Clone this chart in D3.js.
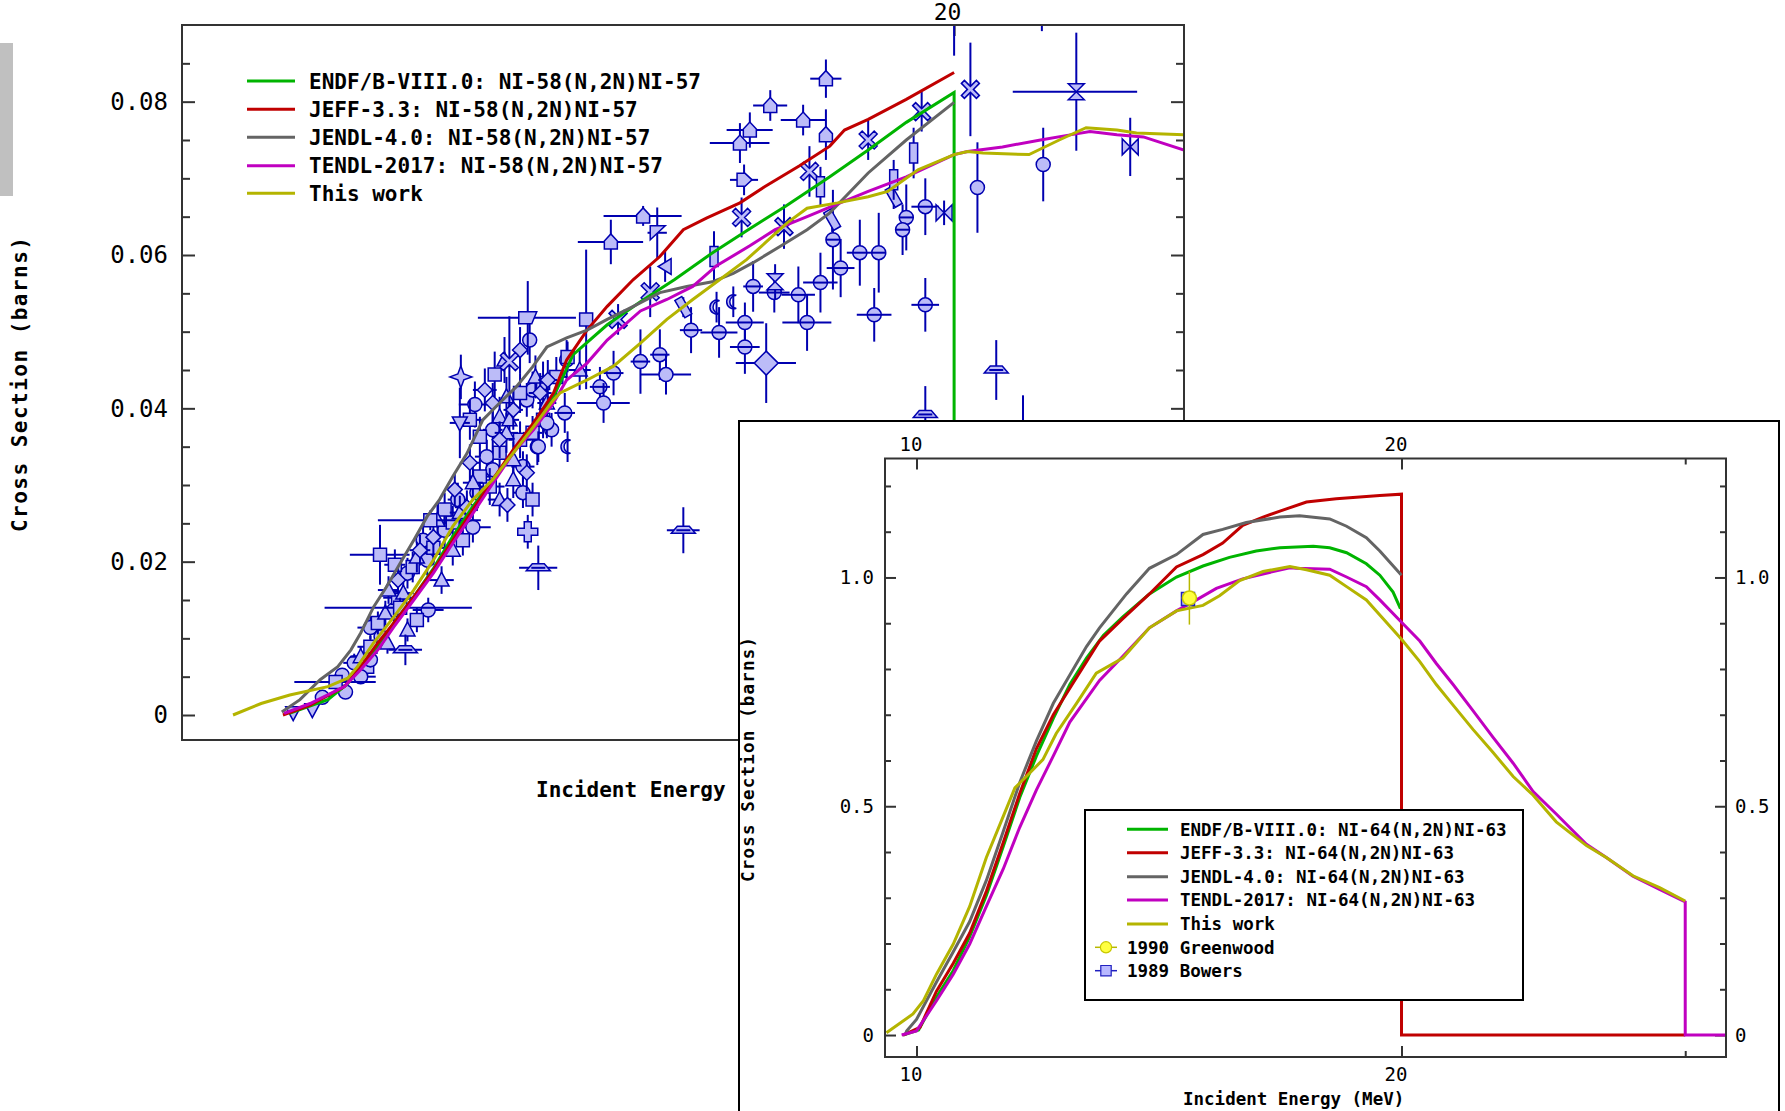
<!DOCTYPE html>
<html><head><meta charset="utf-8">
<script src="https://cdn.jsdelivr.net/npm/d3@7"></script>
<style>body{margin:0;background:#fff;overflow:hidden}</style>
</head><body>
<svg id="c" width="1785" height="1111"></svg>
<script>
// ---------------- DATA: panel 1, Ni-58(n,2n)Ni-57 (E in MeV, cross section in barns) ----------------
const legend1Labels = ["ENDF/B-VIII.0: NI-58(N,2N)NI-57","JEFF-3.3: NI-58(N,2N)NI-57","JENDL-4.0: NI-58(N,2N)NI-57","TENDL-2017: NI-58(N,2N)NI-57","This work"];
const y1MajorTicks = [0,0.02,0.04,0.06,0.08];
const x1Ticks = [20];

const endf1 = [[12.54,0.0002],[12.89,0.0020],[13.07,0.0041],[13.19,0.0063],[13.35,0.0089],[13.50,0.0120],[13.69,0.0154],[13.88,0.0191],[14.07,0.0233],[14.27,0.0272],[14.47,0.0307],[14.68,0.0342],[14.89,0.0376],[15.10,0.0415],[15.31,0.0470],[15.68,0.0509],[16.05,0.0539],[16.44,0.0568],[16.87,0.0602],[17.31,0.0633],[17.76,0.0663],[18.33,0.0702],[18.83,0.0737],[19.34,0.0773],[20.0,0.0812],[20.0,0]];
const jeff1 = [[12.49,0],[12.73,0.0013],[13.04,0.0037],[13.19,0.0063],[13.35,0.0094],[13.50,0.0120],[13.69,0.0154],[13.88,0.0189],[14.07,0.0228],[14.27,0.0268],[14.47,0.0307],[14.68,0.0346],[14.89,0.0381],[15.10,0.0420],[15.24,0.0463],[15.46,0.0502],[15.68,0.0533],[15.97,0.0568],[16.27,0.0598],[16.54,0.0633],[16.81,0.0648],[17.21,0.0668],[17.51,0.0689],[17.94,0.0716],[18.33,0.0742],[18.52,0.0763],[18.83,0.0777],[19.34,0.0803],[20.0,0.0838]];
const jendl1 = [[12.48,0.0004],[12.64,0.0020],[12.82,0.0046],[12.98,0.0063],[13.10,0.0085],[13.19,0.0107],[13.31,0.0141],[13.43,0.0167],[13.56,0.0198],[13.69,0.0228],[13.82,0.0259],[13.94,0.0281],[14.07,0.0311],[14.21,0.0341],[14.37,0.0385],[14.54,0.0407],[14.71,0.0428],[14.88,0.0454],[15.03,0.0480],[15.24,0.0492],[15.46,0.0502],[15.68,0.0516],[15.97,0.0533],[16.27,0.0551],[16.58,0.0559],[16.88,0.0565],[17.13,0.0576],[17.37,0.0590],[17.70,0.0611],[18.04,0.0633],[18.33,0.0655],[18.83,0.0707],[19.34,0.0750],[20.0,0.0799]];
const tendl1 = [[12.50,0.0002],[12.73,0.0015],[13.04,0.0037],[13.19,0.0059],[13.35,0.0085],[13.50,0.0115],[13.69,0.0150],[13.88,0.0185],[14.07,0.0224],[14.27,0.0263],[14.47,0.0302],[14.68,0.0342],[14.89,0.0372],[15.10,0.0407],[15.24,0.0437],[15.46,0.0459],[15.68,0.0489],[16.05,0.0527],[16.35,0.0542],[16.65,0.0559],[16.93,0.0586],[17.33,0.0612],[17.64,0.0633],[18.04,0.0650],[18.37,0.0664],[18.83,0.0683],[19.34,0.0702],[20.0,0.0731],[20.19,0.0735],[20.69,0.0741],[21.25,0.0750],[21.72,0.0757],[22.0,0.0761],[22.42,0.0757],[22.84,0.0754],[23.5,0.0737]];
const work1 = [[12.06,0],[12.30,0.0015],[12.55,0.0026],[12.89,0.0037],[13.07,0.0048],[13.16,0.0063],[13.31,0.0094],[13.50,0.0128],[13.69,0.0163],[13.88,0.0202],[14.07,0.0246],[14.27,0.0281],[14.47,0.0307],[14.68,0.0342],[14.89,0.0376],[15.10,0.0411],[15.17,0.0420],[15.46,0.0437],[15.75,0.0455],[16.05,0.0485],[16.35,0.0516],[16.65,0.0542],[16.97,0.0568],[17.29,0.0594],[17.54,0.0618],[17.79,0.0642],[18.04,0.0661],[18.43,0.0668],[18.83,0.0676],[19.09,0.0683],[19.50,0.0711],[20.0,0.0731],[20.19,0.0735],[20.41,0.0733],[21.08,0.0731],[21.53,0.0750],[21.94,0.0766],[22.42,0.0763],[22.73,0.0759],[23.5,0.0757]];

// experimental points: [E, sigma, dE, dSigma]
const expCircleBar = [[19.60,0.0663,0.19,0.0037],[19.34,0.0649,0,0.0043],[19.29,0.0633,0,0.0033],[18.72,0.0603,0.17,0.0043],[18.97,0.0603,0,0.0052],[18.37,0.0620,0,0.0065],[18.47,0.0583,0.18,0.0038],[18.21,0.0564,0.22,0.0039],[17.93,0.0548,0.21,0.0037],[17.63,0.0551,0.19,0.0026],[17.37,0.0559,0.12,0.0033],[18.04,0.0512,0.31,0.0037],[18.91,0.0522,0.23,0.0035],[19.60,0.0535,0.19,0.0035],[17.27,0.0512,0.23,0.0026],[17.27,0.0480,0.18,0.0035],[16.96,0.0499,0.22,0.0033],[16.63,0.0502,0.13,0.0030],[16.27,0.0470,0.11,0.0033],[16.05,0.0461,0.11,0.0042],[15.75,0.0446,0.11,0.0029],[15.60,0.0428,0.11,0.0026],[15.22,0.0394,0.11,0.0026]];
const expCircle = [[20.33,0.0688,0,0.0059],[21.29,0.0718,0,0.0048],[16.34,0.0444,0.29,0.0026],[15.64,0.0407,0.29,0.0026],[15.03,0.0381,0,0.0020],[14.94,0.0350,0,0.0020],[13.05,0.0030,0,0.0008],[13.19,0.0050,0.14,0.0008],[13.02,0.0052,0,0.0008],[12.84,0.0023,0,0.0007],[13.28,0.0072,0,0.0010],[20.0,0.0945,0,0.0085],[21.27,0.0935,0,0.0043]];
const expHouse = [[18.28,0.0830,0.20,0.0025],[17.58,0.0795,0.21,0.0020],[17.99,0.0776,0.28,0.0020],[17.33,0.0763,0.28,0.0023],[17.21,0.0746,0.36,0.0026],[16.08,0.0651,0.44,0.0013],[15.72,0.0617,0.36,0.0029],[18.28,0.0757,0,0.0033]];
const expHouseRight = [[17.26,0.0698,0.17,0.0020]];
const expCross = [[20.23,0.0816,0,0.0061],[18.83,0.0750,0,0.0026],[18.07,0.0709,0,0.0033],[17.23,0.0649,0,0.0026],[17.75,0.0637,0,0.0029],[16.16,0.0552,0,0.0033],[19.55,0.0787,0,0.0026],[14.64,0.0461,0,0.0059],[15.80,0.0516,0,0.0020]];
const expHourglass = [[21.79,0.0813,0.95,0.0077],[17.64,0.0565,0,0.0023]];
const expBowtie = [[22.63,0.0741,0,0.0038],[19.86,0.0655,0,0.0016]];
const expDiamond = [[17.53,0.0459,0.37,0.0052]];
const expTilted = [[18.36,0.0646,0,0.0016],[19.17,0.0676,0,0.0016],[16.54,0.0532,0,0.0013]];
const expHat = [[20.60,0.0450,0,0.0039],[19.60,0.0392,0,0.0037],[16.54,0.0241,0.19,0.0030],[14.94,0.0192,0.20,0.0029],[13.61,0.0085,0.16,0.0020],[20.99,0.0378,0,0.0039]];
const expPlus = [[14.83,0.0239,0,0.0022]];
const expStar = [[14.15,0.0441,0,0.0029]];
const expSquare = [[13.37,0.0209,0.28,0.0039],[15.45,0.0516,0,0.0091],[15.25,0.0467,0,0.0020],[12.96,0.0043,0.37,0.0010],[13.85,0.0254,0.50,0.0013],[13.56,0.0140,0.70,0.0013]];
const expTriDown = [[14.14,0.0381,0.10,0.0046],[12.58,0.0003,0,0.0008],[12.75,0.0007,0,0.0008]];
const expTrapez = [[14.83,0.0518,0.51,0.0048]];
const expFlag = [[16.24,0.0629,0.11,0.0033]];
const expLeftTri = [[16.33,0.0585,0,0.0020]];
const expCrescent = [[16.93,0.0532,0,0.0020],[17.13,0.0539,0,0.0020],[15.25,0.0350,0,0.0020]];
const expNarrow = [[19.44,0.0733,0,0.0033],[19.17,0.0698,0,0.0026],[18.21,0.0689,0,0.0026],[16.90,0.0598,0,0.0033]];
const clusterCircle = [[13.28,0.0114,0.12,0.0015],[13.50,0.0137,0,0.0018],[13.63,0.0185,0.10,0.0020],[13.82,0.0202,0,0.0020],[13.83,0.0137,0.15,0.0016],[13.99,0.0241,0,0.0022],[14.27,0.0245,0.18,0.0020],[14.31,0.0290,0,0.0024],[14.78,0.0290,0.10,0.0020],[14.47,0.0320,0,0.0026],[14.41,0.0337,0.12,0.0022],[14.93,0.0350,0,0.0024],[14.47,0.0372,0.10,0.0026],[14.82,0.0411,0,0.0022],[14.88,0.0424,0.14,0.0024],[13.38,0.0102,0,0.0014],[13.13,0.0068,0.10,0.0012],[15.08,0.0372,0,0.0022],[14.78,0.0324,0.12,0.0020],[15.24,0.0463,0,0.0026],[14.12,0.0281,0.10,0.0022],[13.78,0.0228,0,0.0020],[14.29,0.0405,0.16,0.0030],[14.85,0.0489,0,0.0030]];
const clusterSquare = [[13.35,0.0120,0,0.0015],[13.54,0.0153,0.14,0.0018],[13.68,0.0193,0,0.0020],[13.88,0.0218,0.12,0.0022],[13.72,0.0124,0,0.0016],[14.07,0.0251,0.10,0.0022],[14.17,0.0228,0,0.0020],[14.44,0.0298,0.15,0.0024],[14.88,0.0281,0,0.0022],[14.34,0.0311,0.10,0.0024],[14.54,0.0342,0,0.0026],[14.75,0.0359,0.12,0.0024],[14.34,0.0363,0,0.0026],[14.99,0.0385,0.10,0.0024],[14.75,0.0420,0,0.0026],[13.28,0.0089,0.12,0.0014],[13.25,0.0063,0,0.0012],[14.88,0.0368,0.10,0.0022],[14.99,0.0433,0,0.0028],[15.13,0.0441,0.12,0.0026],[13.99,0.0268,0,0.0022],[13.51,0.0196,0.10,0.0020],[14.49,0.0444,0,0.0030],[14.24,0.0385,0.12,0.0026]];
const clusterTri = [[13.42,0.0133,0,0.0016],[13.59,0.0159,0.10,0.0018],[13.72,0.0206,0,0.0020],[13.96,0.0176,0.12,0.0018],[13.63,0.0111,0,0.0015],[14.14,0.0264,0.10,0.0022],[14.07,0.0215,0,0.0020],[14.54,0.0281,0.12,0.0022],[14.68,0.0307,0,0.0024],[14.27,0.0303,0.10,0.0024],[14.68,0.0333,0,0.0024],[14.61,0.0368,0.12,0.0026],[14.54,0.0389,0,0.0026],[15.03,0.0407,0.10,0.0024],[14.61,0.0415,0,0.0026],[13.19,0.0076,0.10,0.0013],[13.44,0.0094,0,0.0014],[14.64,0.0385,0.10,0.0024],[14.91,0.0441,0,0.0028],[15.38,0.0450,0.12,0.0026],[13.92,0.0254,0,0.0022],[13.45,0.0163,0.10,0.0018],[14.59,0.0463,0,0.0030]];
const clusterDiamond = [[13.54,0.0176,0,0.0018],[13.75,0.0215,0.10,0.0020],[13.88,0.0232,0,0.0022],[14.21,0.0271,0.12,0.0022],[14.62,0.0274,0,0.0022],[14.24,0.0329,0.10,0.0024],[14.82,0.0316,0,0.0024],[14.68,0.0398,0.10,0.0026],[14.47,0.0407,0,0.0026],[14.96,0.0420,0.12,0.0026],[14.54,0.0359,0,0.0024],[15.04,0.0437,0.10,0.0026],[14.09,0.0294,0,0.0022],[14.39,0.0424,0.12,0.0028],[14.75,0.0476,0,0.0030]];

// ---------------- DATA: panel 2 (inset), Ni-64(n,2n)Ni-63 ----------------
const legend2Labels = ["ENDF/B-VIII.0: NI-64(N,2N)NI-63","JEFF-3.3: NI-64(N,2N)NI-63","JENDL-4.0: NI-64(N,2N)NI-63","TENDL-2017: NI-64(N,2N)NI-63","This work"];
const legend2ExpLabels = ["1990 Greenwood","1989 Bowers"];
const y2MajorTicks = [0,0.5,1.0];
const x2MajorTicks = [10,20];
const x2MinorTicks = [30];

const endf2 = [[9.81,0],[10.03,0.011],[10.29,0.083],[10.54,0.141],[10.79,0.215],[11.05,0.305],[11.32,0.412],[11.59,0.519],[11.87,0.610],[12.16,0.692],[12.45,0.766],[12.75,0.824],[13.06,0.873],[13.43,0.914],[13.95,0.964],[14.50,1.001],[15.06,1.025],[15.64,1.044],[16.25,1.058],[16.81,1.065],[17.63,1.068],[18.05,1.065],[18.49,1.054],[19.02,1.030],[19.39,1.005],[19.76,0.968],[19.97,0.932]];
const jeff2 = [[9.81,0],[10.05,0.017],[10.29,0.096],[10.54,0.157],[10.79,0.223],[11.05,0.314],[11.32,0.421],[11.59,0.528],[11.87,0.626],[12.16,0.700],[12.45,0.758],[12.75,0.816],[12.99,0.861],[13.43,0.910],[13.95,0.964],[14.50,1.023],[15.06,1.050],[15.49,1.075],[15.94,1.114],[16.41,1.132],[16.81,1.145],[17.46,1.165],[18.22,1.172],[19.39,1.179],[20.0,1.182],[20.0,0],[30.0,0]];
const jendl2 = [[9.84,0],[9.86,0.009],[10.0,0.034],[10.29,0.116],[10.54,0.182],[10.79,0.248],[11.05,0.338],[11.32,0.445],[11.59,0.552],[11.87,0.643],[12.16,0.725],[12.45,0.787],[12.75,0.849],[12.99,0.890],[13.50,0.964],[13.95,1.020],[14.50,1.050],[15.06,1.094],[15.49,1.105],[16.02,1.120],[16.81,1.132],[17.29,1.135],[18.05,1.128],[18.49,1.112],[19.02,1.087],[19.39,1.058],[20.0,1.005]];
const tendl2 = [[9.79,0],[10.0,0.009],[10.29,0.075],[10.54,0.133],[10.79,0.199],[11.05,0.281],[11.32,0.363],[11.59,0.454],[11.87,0.536],[12.16,0.610],[12.45,0.684],[12.99,0.775],[13.43,0.828],[13.95,0.890],[14.50,0.927],[14.92,0.951],[15.35,0.976],[15.94,0.997],[16.56,1.011],[17.05,1.021],[17.21,1.020],[18.05,1.018],[18.49,1.001],[19.02,0.980],[19.39,0.951],[20.0,0.902],[20.53,0.861],[21.02,0.812],[21.53,0.766],[22.15,0.709],[22.79,0.651],[23.46,0.594],[24.14,0.532],[24.95,0.483],[26.05,0.417],[26.80,0.388],[27.84,0.347],[28.92,0.318],[30.0,0.291],[30.0,0],[31.8,0]];
const work2 = [[9.58,0.005],[9.95,0.046],[10.10,0.075],[10.29,0.133],[10.54,0.199],[10.79,0.281],[11.05,0.388],[11.32,0.478],[11.51,0.540],[11.70,0.565],[11.98,0.602],[12.21,0.659],[12.57,0.725],[12.93,0.791],[13.43,0.824],[13.95,0.890],[14.50,0.927],[15.06,0.939],[15.42,0.960],[15.87,0.993],[16.41,1.013],[17.05,1.024],[17.46,1.017],[18.05,1.005],[18.49,0.980],[19.02,0.951],[19.39,0.918],[20.0,0.865],[20.53,0.816],[21.02,0.766],[21.53,0.721],[22.15,0.668],[22.79,0.618],[23.46,0.565],[24.14,0.524],[24.95,0.466],[26.05,0.414],[26.80,0.388],[27.84,0.348],[28.92,0.322],[30.0,0.293]];
const greenwood2 = [[14.77,0.955,0,0.058]];
const bowers2 = [[14.74,0.953,0,0]];

// ---------------- RENDERING ----------------
const FONT = '"DejaVu Sans Mono","Liberation Mono",monospace';
const COL = {green:'#00b400', red:'#c00000', gray:'#646464', purple:'#c000c0', olive:'#b4b400', blue:'#0000b0', fill:'#bcbcf8'};
const svg = d3.select('#c');
const defs = svg.append('defs');

svg.append('rect').attr('x',0).attr('y',43).attr('width',13).attr('height',153).attr('fill','#c0c0c0');

const MK = {
  circle:'M7,0A7,7 0 1,1 -7,0A7,7 0 1,1 7,0Z',
  square:'M-6.5,-6.5H6.5V6.5H-6.5Z',
  triUp:'M0,-8L7.5,6L-7.5,6Z',
  triDown:'M0,8L7.5,-6L-7.5,-6Z',
  diamond:'M0,-7.5L7.5,0L0,7.5L-7.5,0Z',
  bigDiamond:'M0,-12L12,0L0,12L-12,0Z',
  house:'M-6.5,7H6.5V-1L0,-8L-6.5,-1Z',
  houseRight:'M-7,-6.5H1L8,0L1,6.5H-7Z',
  cross:'M-9,-6L-6,-9L0,-3L6,-9L9,-6L3,0L9,6L6,9L0,3L-6,9L-9,6L-3,0Z',
  plus:'M-3.5,-10H3.5V-3.5H10V3.5H3.5V10H-3.5V3.5H-10V-3.5H-3.5Z',
  hourglass:'M-8,-8H8L0,0Z M-8,8H8L0,0Z',
  bowtie:'M-8,-8V8L0,0Z M8,-8V8L0,0Z',
  hat:'M-12,3H12L6,-4H-6Z',
  star:'M0,-11L3,-3L11,0L3,3L0,11L-3,3L-11,0L-3,-3Z',
  crescent:'M3,-6.5A7,7 0 1,0 3,6.5A5,5 0 1,1 3,-6.5Z',
  narrow:'M-4,-10H4V10H-4Z',
  leftTri:'M6,-8V8L-7,0Z',
  flag:'M-7,-7H8L-7,7Z',
  trapez:'M-9,-6H9L4,6H-9Z'
};

function drawPoints(g, x, y, data, shape, opts) {
  opts = opts || {};
  const ec = opts.errColor || COL.blue;
  const eg = g.append('g').attr('stroke', ec).attr('stroke-width', opts.ew || 2);
  data.forEach(d => {
    if (d[3] > 0) eg.append('line').attr('x1', x(d[0])).attr('x2', x(d[0])).attr('y1', y(d[1]-d[3])).attr('y2', y(d[1]+d[3]));
    if (d[2] > 0) eg.append('line').attr('y1', y(d[1])).attr('y2', y(d[1])).attr('x1', x(d[0]-d[2])).attr('x2', x(d[0]+d[2]));
  });
  g.append('g').selectAll('path').data(data).join('path')
    .attr('d', MK[shape])
    .attr('transform', d => `translate(${x(d[0])},${y(d[1])})` + (opts.rot ? ` rotate(${opts.rot})` : ''))
    .attr('fill', opts.fill || COL.fill).attr('stroke', opts.stroke || COL.blue).attr('stroke-width', 1.5);
  if (opts.bar) {
    g.append('g').selectAll('line').data(data).join('line')
      .attr('x1', d => x(d[0]) - 7).attr('x2', d => x(d[0]) + 7)
      .attr('y1', d => y(d[1])).attr('y2', d => y(d[1]))
      .attr('stroke', COL.blue).attr('stroke-width', 2);
  }
}

function styleAxis(g, size) {
  g.select('.domain').remove();
  g.selectAll('line').attr('stroke', '#333').attr('stroke-width', 2);
  g.selectAll('text').attr('font-family', FONT).attr('font-size', size).attr('fill', '#000');
}

// ================= PANEL 1 =================
const P1 = {l:182, t:25, r:1184, b:740};
const x1 = d3.scaleLog().domain([11.636, 23.5]).range([P1.l, P1.r]);
const y1 = d3.scaleLinear().domain([-0.00326, 0.09]).range([P1.b, P1.t]);
defs.append('clipPath').attr('id','clip1').append('rect').attr('x',P1.l).attr('y',P1.t).attr('width',P1.r-P1.l).attr('height',P1.b-P1.t);
const g1 = svg.append('g');
const y1Minor = d3.range(0, 0.0851, 0.005).filter(v => !y1MajorTicks.some(m => Math.abs(m - v) < 1e-9));
const fmt1 = d => d === 0 ? '0' : d.toFixed(2);

g1.append('g').attr('transform', `translate(${P1.l},0)`).call(d3.axisLeft(y1).tickValues(y1MajorTicks).tickSize(-13).tickPadding(14).tickFormat(fmt1)).call(s => styleAxis(s, 24));
g1.append('g').attr('transform', `translate(${P1.l},0)`).call(d3.axisLeft(y1).tickValues(y1Minor).tickSize(-8).tickFormat('')).call(s => styleAxis(s, 24));
g1.append('g').attr('transform', `translate(${P1.r},0)`).call(d3.axisRight(y1).tickValues(y1MajorTicks).tickSize(-13).tickFormat('')).call(s => styleAxis(s, 24));
g1.append('g').attr('transform', `translate(${P1.r},0)`).call(d3.axisRight(y1).tickValues(y1Minor).tickSize(-8).tickFormat('')).call(s => styleAxis(s, 24));
g1.append('g').attr('transform', `translate(0,${P1.t})`).call(d3.axisTop(x1).tickValues(x1Ticks).tickSize(-11).tickPadding(5).tickFormat(d3.format('d'))).call(s => styleAxis(s, 23)).selectAll('text').attr('dx', -7);
g1.append('g').attr('transform', `translate(0,${P1.b})`).call(d3.axisBottom(x1).tickValues(x1Ticks).tickSize(-11).tickFormat('')).call(s => styleAxis(s, 24));

const pts1 = g1.append('g').attr('clip-path', 'url(#clip1)');
drawPoints(pts1, x1, y1, clusterCircle, 'circle');
drawPoints(pts1, x1, y1, clusterSquare, 'square');
drawPoints(pts1, x1, y1, clusterTri, 'triUp');
drawPoints(pts1, x1, y1, clusterDiamond, 'diamond');
drawPoints(pts1, x1, y1, expCircleBar, 'circle', {bar:true});
drawPoints(pts1, x1, y1, expCircle, 'circle');
drawPoints(pts1, x1, y1, expHouse, 'house');
drawPoints(pts1, x1, y1, expHouseRight, 'houseRight');
drawPoints(pts1, x1, y1, expCross, 'cross');
drawPoints(pts1, x1, y1, expHourglass, 'hourglass');
drawPoints(pts1, x1, y1, expBowtie, 'bowtie');
drawPoints(pts1, x1, y1, expDiamond, 'bigDiamond');
drawPoints(pts1, x1, y1, expTilted, 'narrow', {rot:-30});
drawPoints(pts1, x1, y1, expHat, 'hat', {bar:true});
drawPoints(pts1, x1, y1, expPlus, 'plus');
drawPoints(pts1, x1, y1, expStar, 'star');
drawPoints(pts1, x1, y1, expSquare, 'square');
drawPoints(pts1, x1, y1, expTriDown, 'triDown');
drawPoints(pts1, x1, y1, expTrapez, 'trapez');
drawPoints(pts1, x1, y1, expFlag, 'flag');
drawPoints(pts1, x1, y1, expLeftTri, 'leftTri');
drawPoints(pts1, x1, y1, expCrescent, 'crescent');
drawPoints(pts1, x1, y1, expNarrow, 'narrow');

const line1 = d3.line().x(d => x1(d[0])).y(d => y1(d[1]));
const curves1 = [[endf1, COL.green], [jeff1, COL.red], [jendl1, COL.gray], [tendl1, COL.purple], [work1, COL.olive]];
const cg1 = g1.append('g').attr('clip-path', 'url(#clip1)');
curves1.forEach(([d, c]) => cg1.append('path').attr('d', line1(d)).attr('fill', 'none').attr('stroke', c).attr('stroke-width', 3));

g1.append('rect').attr('x', P1.l).attr('y', P1.t).attr('width', P1.r-P1.l).attr('height', P1.b-P1.t).attr('fill', 'none').attr('stroke', '#333').attr('stroke-width', 2);

// legend panel 1
const leg1Y = [81, 109.3, 137.3, 165.7, 193.3];
const leg1Col = [COL.green, COL.red, COL.gray, COL.purple, COL.olive];
legend1Labels.forEach((t, i) => {
  g1.append('line').attr('x1', 247).attr('x2', 295).attr('y1', leg1Y[i]).attr('y2', leg1Y[i]).attr('stroke', leg1Col[i]).attr('stroke-width', 3);
  g1.append('text').attr('x', 309).attr('y', leg1Y[i] + 7.5).text(t)
    .attr('font-family', FONT).attr('font-weight', 'bold').attr('font-size', 21).attr('fill', '#000');
});

g1.append('text').attr('x', 536).attr('y', 797).text('Incident Energy (MeV)')
  .attr('font-family', FONT).attr('font-weight', 'bold').attr('font-size', 21);
g1.append('text').attr('transform', 'translate(20,384.5) rotate(-90)').attr('text-anchor', 'middle').attr('dy', '0.35em')
  .attr('textLength', 295).attr('lengthAdjust', 'spacing').text('Cross Section (barns)')
  .attr('font-family', FONT).attr('font-weight', 'bold').attr('font-size', 21);

// ================= PANEL 2 (inset) =================
const g2 = svg.append('g');
g2.append('rect').attr('x', 739).attr('y', 421).attr('width', 1040).attr('height', 720).attr('fill', '#fff').attr('stroke', '#000').attr('stroke-width', 2);
const P2 = {l:885, t:458.5, r:1726, b:1057};
const x2 = d3.scaleLog().domain([9.56, 31.8]).range([P2.l, P2.r]);
const y2 = d3.scaleLinear().domain([-0.048, 1.26]).range([P2.b, P2.t]);
defs.append('clipPath').attr('id','clip2').append('rect').attr('x',P2.l).attr('y',P2.t).attr('width',P2.r-P2.l).attr('height',P2.b-P2.t);
const y2Minor = d3.range(0, 1.201, 0.1).filter(v => !y2MajorTicks.some(m => Math.abs(m - v) < 1e-9));
const fmt2 = d => d === 0 ? '0' : d.toFixed(1);

g2.append('g').attr('transform', `translate(${P2.l},0)`).call(d3.axisLeft(y2).tickValues(y2MajorTicks).tickSize(-11).tickPadding(11).tickFormat(fmt2)).call(s => styleAxis(s, 19));
g2.append('g').attr('transform', `translate(${P2.l},0)`).call(d3.axisLeft(y2).tickValues(y2Minor).tickSize(-6).tickFormat('')).call(s => styleAxis(s, 19));
g2.append('g').attr('transform', `translate(${P2.r},0)`).call(d3.axisRight(y2).tickValues(y2MajorTicks).tickSize(-11).tickPadding(9).tickFormat(fmt2)).call(s => styleAxis(s, 19));
g2.append('g').attr('transform', `translate(${P2.r},0)`).call(d3.axisRight(y2).tickValues(y2Minor).tickSize(-6).tickFormat('')).call(s => styleAxis(s, 19));
g2.append('g').attr('transform', `translate(0,${P2.t})`).call(d3.axisTop(x2).tickValues(x2MajorTicks).tickSize(-11).tickPadding(8).tickFormat(d3.format('d'))).call(s => styleAxis(s, 19)).selectAll('text').attr('dx', -6);
g2.append('g').attr('transform', `translate(0,${P2.t})`).call(d3.axisTop(x2).tickValues(x2MinorTicks).tickSize(-6).tickFormat('')).call(s => styleAxis(s, 19));
g2.append('g').attr('transform', `translate(0,${P2.b})`).call(d3.axisBottom(x2).tickValues(x2MajorTicks).tickSize(-11).tickPadding(11).tickFormat(d3.format('d'))).call(s => styleAxis(s, 19)).selectAll('text').attr('dx', -6);
g2.append('g').attr('transform', `translate(0,${P2.b})`).call(d3.axisBottom(x2).tickValues(x2MinorTicks).tickSize(-6).tickFormat('')).call(s => styleAxis(s, 19));

const line2 = d3.line().x(d => x2(d[0])).y(d => y2(d[1]));
const curves2 = [[endf2, COL.green], [jeff2, COL.red], [jendl2, COL.gray], [tendl2, COL.purple], [work2, COL.olive]];
const cg2 = g2.append('g').attr('clip-path', 'url(#clip2)');
curves2.forEach(([d, c]) => cg2.append('path').attr('d', line2(d)).attr('fill', 'none').attr('stroke', c).attr('stroke-width', 3));
drawPoints(cg2, x2, y2, bowers2, 'square', {fill:'#b8b8ff', stroke:'#2020c0'});
drawPoints(cg2, x2, y2, greenwood2, 'circle', {fill:'#ffff40', stroke:'#c8c800', errColor:'#b8b800', ew:1.5});

g2.append('rect').attr('x', P2.l).attr('y', P2.t).attr('width', P2.r-P2.l).attr('height', P2.b-P2.t).attr('fill', 'none').attr('stroke', '#333').attr('stroke-width', 2);

// legend panel 2
g2.append('rect').attr('x', 1085).attr('y', 810).attr('width', 438).attr('height', 190).attr('fill', '#fff').attr('stroke', '#000').attr('stroke-width', 2);
const leg2Y = [829.3, 852.7, 876.7, 900, 924];
legend2Labels.forEach((t, i) => {
  g2.append('line').attr('x1', 1127).attr('x2', 1168).attr('y1', leg2Y[i]).attr('y2', leg2Y[i]).attr('stroke', leg1Col[i]).attr('stroke-width', 3);
  g2.append('text').attr('x', 1180).attr('y', leg2Y[i] + 6.3).text(t)
    .attr('font-family', FONT).attr('font-weight', 'bold').attr('font-size', 17.5).attr('fill', '#000');
});
const leg2ExpY = [947.3, 970.7];
const leg2Mk = [['circle', '#ffff40', '#c8c800', '#b8b800'], ['square', '#b8b8ff', '#2020c0', '#2020c0']];
legend2ExpLabels.forEach((t, i) => {
  const [shp, f, s, ec] = leg2Mk[i];
  g2.append('line').attr('x1', 1095).attr('x2', 1117).attr('y1', leg2ExpY[i]).attr('y2', leg2ExpY[i]).attr('stroke', ec).attr('stroke-width', 1.5);
  g2.append('path').attr('d', MK[shp]).attr('transform', `translate(1106,${leg2ExpY[i]}) scale(0.8)`).attr('fill', f).attr('stroke', s).attr('stroke-width', 1.5);
  g2.append('text').attr('x', 1127).attr('y', leg2ExpY[i] + 6.3).text(t)
    .attr('font-family', FONT).attr('font-weight', 'bold').attr('font-size', 17.5).attr('fill', '#000');
});

g2.append('text').attr('x', 1183).attr('y', 1105).text('Incident Energy (MeV)')
  .attr('font-family', FONT).attr('font-weight', 'bold').attr('font-size', 17.5);
g2.append('text').attr('transform', 'translate(748,759.5) rotate(-90)').attr('text-anchor', 'middle').attr('dy', '0.35em')
  .attr('textLength', 245).attr('lengthAdjust', 'spacing').text('Cross Section (barns)')
  .attr('font-family', FONT).attr('font-weight', 'bold').attr('font-size', 17.5);
</script>
</body></html>
